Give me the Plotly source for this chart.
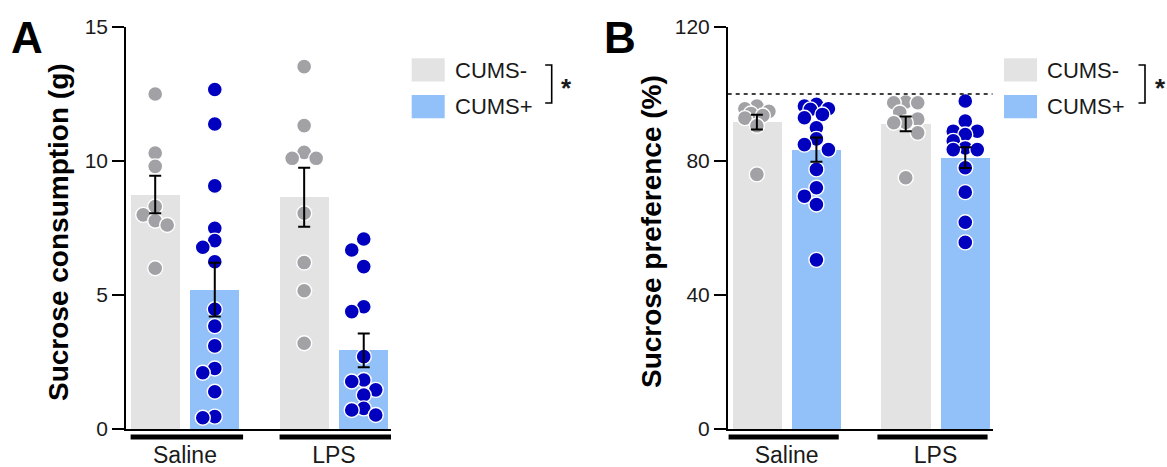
import numpy as np
import plotly.graph_objects as go

# ---------------- data ----------------
groups = ["Saline", "LPS"]
series = ["CUMS-", "CUMS+"]

# Panel A: sucrose consumption (g)
a_mean_neg = [8.75, 8.65]
a_mean_pos = [5.20, 2.93]
a_sem_neg = [0.70, 1.10]
a_sem_pos = [1.00, 0.63]
a_saline_neg = [12.5, 10.3, 9.8, 8.3, 7.99, 7.77, 7.61, 6.0]
a_saline_pos = [12.67, 11.38, 9.07, 7.49, 7.03, 6.78, 6.24, 4.47, 3.84, 3.10,
                2.26, 2.10, 1.39, 0.46, 0.42]
a_lps_neg = [13.52, 11.32, 10.32, 10.1, 10.1, 8.05, 6.21, 5.16, 3.2]
a_lps_pos = [7.09, 6.68, 6.06, 4.56, 4.38, 2.70, 1.83, 1.77, 1.46, 1.27,
             0.77, 0.71, 0.52]

# Panel B: sucrose preference (%)
b_mean_neg = [91.6, 91.1]
b_mean_pos = [83.4, 81.0]
b_sem_neg = [2.2, 2.2]
b_sem_pos = [3.6, 3.1]
b_saline_neg = [96.4, 95.6, 94.8, 94.2, 93.6, 92.8, 90.5, 76.0]
b_saline_pos = [96.9, 96.4, 95.6, 95.4, 93.9, 92.9, 89.9, 86.6, 84.9, 83.4,
                77.5, 72.0, 69.5, 67.0, 50.5]
b_lps_neg = [97.6, 97.4, 97.4, 94.5, 92.5, 91.5, 91.4, 88.4, 75.0]
b_lps_pos = [97.9, 91.9, 88.9, 88.9, 87.9, 86.0, 83.9, 83.4, 83.4, 78.0,
             70.7, 61.7, 55.7]

a_ticks = [0, 5, 10, 15]
b_ticks = [0, 40, 80, 120]
b_reference = 100

# ---------------- styling / layout constants ----------------
W, H = 1167, 467
FONT = "Liberation Sans, Arial, Helvetica, sans-serif"
BAR_GRAY = "#E3E3E3"
BAR_BLUE = "#92C0F8"
DOT_GRAY = "#A2A2A6"
DOT_BLUE = "#0000BE"
TXT = "#1a1a1a"

XRANGE = [-0.396, 1.383]
OFF = 0.2
BW = 0.33
Y0_PX, Y1_PX = 429, 27
ydom = [(H - Y0_PX) / H, (H - Y1_PX) / H]
xdomA = [126 / W, 391 / W]
xdomB = [727.7 / W, 992.5 / W]


def px_x(x):
    return x / W


def px_y(y):
    return (H - y) / H


def swarm(vals, ppy, diam=11.0, step=12.0):
    vals = np.asarray(vals, dtype=float)
    order = np.argsort(-vals, kind="stable")
    placed = []
    offs = np.zeros(len(vals))
    cands = [0, -step, step, -step / 2, step / 2]
    for i in order:
        y = vals[i] * ppy
        best, best_d = 0.0, -1.0
        chosen = None
        for c in cands:
            d = min([np.hypot(c - px, y - py) for px, py in placed] or [1e9])
            if d >= diam:
                chosen = c
                break
            if d > best_d:
                best, best_d = c, d
        if chosen is None:
            chosen = best
        placed.append((chosen, y))
        offs[i] = chosen
    return offs


fig = go.Figure()


def add_panel(xa, ya, xdom, ymax, means_neg, means_pos, sems_neg, sems_pos, pts):
    ppx = (xdom[1] - xdom[0]) * W / (XRANGE[1] - XRANGE[0])
    ppy = (Y0_PX - Y1_PX) / ymax
    gx = np.arange(len(groups))
    for si, (means, col) in enumerate([(means_neg, BAR_GRAY), (means_pos, BAR_BLUE)]):
        sign = -1 if si == 0 else 1
        fig.add_trace(go.Bar(x=gx + sign * OFF, y=means, width=BW,
                             marker=dict(color=col, line=dict(width=0)),
                             xaxis=xa, yaxis=ya, showlegend=False,
                             hoverinfo="skip"))
    for gi, g in enumerate(groups):
        for si, s in enumerate(series):
            vals = pts[(g, s)]
            offs = swarm(vals, ppy) / ppx
            xc = gi + (-OFF if si == 0 else OFF)
            fig.add_trace(go.Scatter(
                x=xc + offs, y=vals, mode="markers", xaxis=xa, yaxis=ya,
                marker=dict(size=15, color=DOT_GRAY if si == 0 else DOT_BLUE,
                            line=dict(color="white", width=1.4)),
                cliponaxis=False, showlegend=False, hoverinfo="skip"))
    for si, (means, sems) in enumerate([(means_neg, sems_neg), (means_pos, sems_pos)]):
        sign = -1 if si == 0 else 1
        fig.add_trace(go.Scatter(
            x=gx + sign * OFF, y=means, mode="markers", xaxis=xa, yaxis=ya,
            marker=dict(size=1, color="rgba(0,0,0,0)"),
            error_y=dict(type="data", array=sems, visible=True, color="black",
                         thickness=2, width=6),
            cliponaxis=False, showlegend=False, hoverinfo="skip"))


add_panel("x", "y", xdomA, 15, a_mean_neg, a_mean_pos, a_sem_neg, a_sem_pos,
          {("Saline", "CUMS-"): a_saline_neg, ("Saline", "CUMS+"): a_saline_pos,
           ("LPS", "CUMS-"): a_lps_neg, ("LPS", "CUMS+"): a_lps_pos})
add_panel("x2", "y2", xdomB, 120, b_mean_neg, b_mean_pos, b_sem_neg, b_sem_pos,
          {("Saline", "CUMS-"): b_saline_neg, ("Saline", "CUMS+"): b_saline_pos,
           ("LPS", "CUMS-"): b_lps_neg, ("LPS", "CUMS+"): b_lps_pos})

xcommon = dict(range=XRANGE, showline=True, linecolor="black", linewidth=1.5,
               showgrid=False, zeroline=False, ticks="", automargin=False,
               tickvals=list(range(len(groups))), ticktext=groups,
               tickfont=dict(family=FONT, size=23, color=TXT),
               ticklabelstandoff=5, fixedrange=True)
ycommon = dict(showline=True, linecolor="black", linewidth=1.5, showgrid=False,
               zeroline=False, ticks="outside", ticklen=12, tickwidth=1.5,
               tickcolor="black", domain=ydom, automargin=False,
               tickfont=dict(family=FONT, size=21, color=TXT), fixedrange=True)

shapes = []
annotations = []

for xref, lo, hi in [("x", -0.365, 0.39), ("x2", -0.39, 0.35)]:
    for gi in range(len(groups)):
        shapes.append(dict(type="line", xref=xref, yref="paper",
                           x0=gi + lo, x1=gi + hi, y0=px_y(437), y1=px_y(437),
                           line=dict(color="black", width=5)))

shapes.append(dict(type="line", xref="x2 domain", yref="y2", x0=0, x1=1,
                   y0=b_reference, y1=b_reference,
                   line=dict(color="black", width=1.5, dash="4px,4px")))

for box_x, text_x, br_x in [(411.7, 452.7, 551.7), (1004, 1045, 1145)]:
    for si, (s, col) in enumerate(zip(series, [BAR_GRAY, BAR_BLUE])):
        y_top = 58.3 + si * 36.7
        shapes.append(dict(type="rect", xref="paper", yref="paper",
                           x0=px_x(box_x), x1=px_x(box_x + 33),
                           y0=px_y(y_top + 23.3), y1=px_y(y_top),
                           fillcolor=col, line=dict(width=0)))
        annotations.append(dict(text=s, xref="paper", yref="paper",
                                x=px_x(text_x), y=px_y(y_top + 11.7),
                                xanchor="left", yanchor="middle", showarrow=False,
                                font=dict(family=FONT, size=22, color=TXT)))
    path = "M {a},{t} L {b},{t} L {b},{u} L {a},{u}".format(
        a=px_x(br_x - 6.5), b=px_x(br_x), t=px_y(65), u=px_y(103))
    shapes.append(dict(type="path", xref="paper", yref="paper", path=path,
                       line=dict(color="black", width=1.6)))
    annotations.append(dict(text="<b>*</b>", xref="paper", yref="paper",
                            x=px_x(br_x + 15), y=px_y(88), xanchor="center",
                            yanchor="middle", showarrow=False,
                            font=dict(family=FONT, size=26, color=TXT)))

for xc, txt in [(58, "Sucrose consumption (g)"), (651, "Sucrose preference (%)")]:
    annotations.append(dict(text="<b>" + txt + "</b>", xref="paper", yref="paper",
                            x=px_x(xc), y=px_y(232), textangle=-90,
                            xanchor="center", yanchor="middle", showarrow=False,
                            font=dict(family=FONT, size=28, color="black")))

for xc, letter in [(27, "A"), (620, "B")]:
    annotations.append(dict(text="<b>" + letter + "</b>", xref="paper",
                            yref="paper", x=px_x(xc), y=px_y(37),
                            xanchor="center", yanchor="middle", showarrow=False,
                            font=dict(family=FONT, size=44, color="black")))

fig.update_layout(
    width=W, height=H, margin=dict(l=0, r=0, t=0, b=0, autoexpand=False),
    paper_bgcolor="white", plot_bgcolor="white", bargap=0,
    xaxis=dict(domain=xdomA, anchor="y", **xcommon),
    yaxis=dict(range=[0, 15], tickvals=a_ticks, anchor="x", **ycommon),
    xaxis2=dict(domain=xdomB, anchor="y2", **xcommon),
    yaxis2=dict(range=[0, 120], tickvals=b_ticks, anchor="x2", **ycommon),
    shapes=shapes, annotations=annotations, showlegend=False,
)

fig.write_html("out.html")
